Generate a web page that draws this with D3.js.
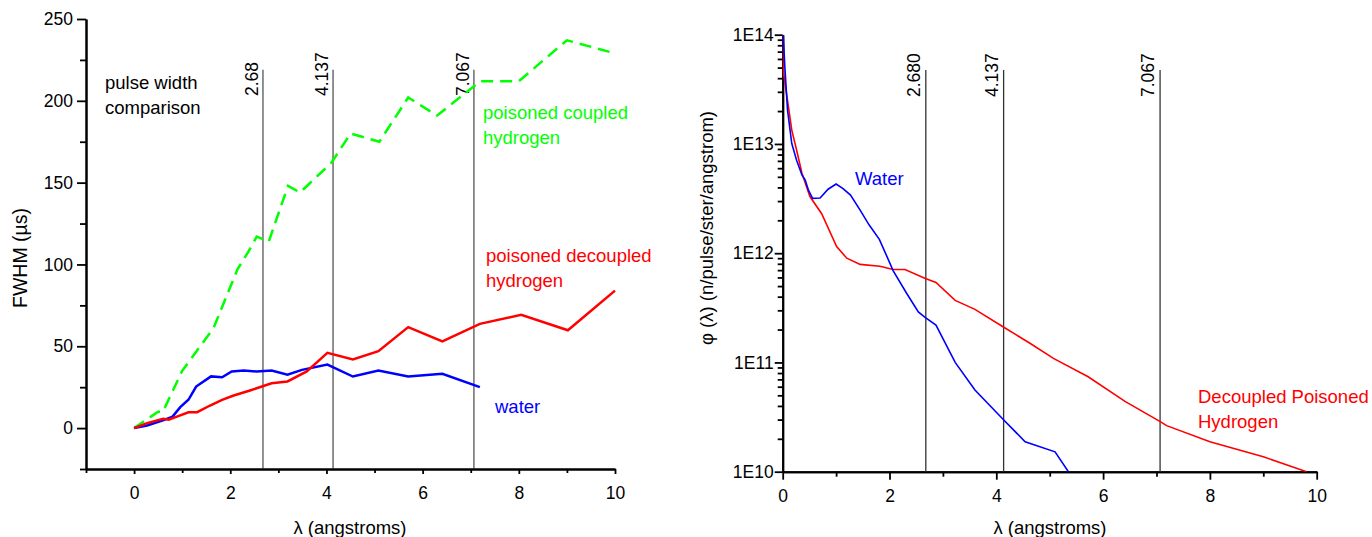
<!DOCTYPE html>
<html>
<head>
<meta charset="utf-8">
<script src="https://cdn.jsdelivr.net/npm/d3@7"></script>
<style>
  body { margin: 0; background: #fff; }
  svg { display: block; font-family: "Liberation Sans", Arial, sans-serif; }
</style>
</head>
<body>
<div id="chart"></div>
<script>
// left panel: pulse width (FWHM, µs) vs wavelength
const fwhmCoupled = [[0,0],[0.25,5],[0.5,10],[0.6,10],[1.0,35],[1.5,55],[1.65,61],[2.15,97],[2.38,108],[2.55,117],[2.8,114],
  [3.2,148],[3.45,144],[4.1,162],[4.5,180],[5.1,175],[5.7,202],[6.3,191],[7.2,212],[8.0,212],[9.0,237],[10.0,229]];
const fwhmDecoupled = [[0,0],[0.27,3],[0.48,4.7],[0.61,5.7],[0.72,5.1],[0.89,7],[1.13,9.7],[1.31,9.7],[1.58,13.8],[1.83,17.3],
  [2.07,19.9],[2.41,23],[2.86,27.4],[3.19,28.5],[3.59,34.6],[4.02,46],[4.55,42],[5.08,47],[5.7,61.7],[6.41,53],[7.19,63.7],
  [8.05,69.2],[9.02,59.8],[10,84]];
const fwhmWater = [[0,0],[0.27,1.6],[0.6,4.7],[0.8,7],[0.96,12.8],[1.13,17.3],[1.29,25.4],[1.6,31.6],[1.83,31.1],[2.03,34.6],
  [2.28,35.2],[2.55,34.6],[2.86,35.2],[3.19,32.6],[3.49,35.6],[4.02,38.8],[4.55,31.5],[5.08,35.2],[5.7,31.5],[6.41,33.2],[7.19,25]];

// right panel: flux (n/pulse/ster/angstrom) vs wavelength
const fluxWater = [[0.01,1e14],[0.04,5.1e13],[0.09,2.05e13],[0.17,1.01e13],[0.26,7.1e12],[0.36,5.2e12],[0.42,4.7e12],[0.48,3.8e12],
  [0.56,3.18e12],[0.7,3.2e12],[0.85,3.85e12],[1.0,4.3e12],[1.13,3.9e12],[1.27,3.4e12],[1.45,2.48e12],[1.62,1.81e12],[1.81,1.34e12],
  [2.07,6.9e11],[2.32,4.3e11],[2.54,2.9e11],[2.66,2.6e11],[2.87,2.2e11],[3.23,1e11],[3.6,5.6e10],[4.14,2.97e10],[4.54,1.88e10],
  [5.1,1.52e10],[5.35,1e10]];
const fluxDecoupled = [[0,1e14],[0.01,4.6e13],[0.09,2.5e13],[0.17,1.34e13],[0.26,8.8e12],[0.36,5.4e12],[0.51,3.3e12],[0.73,2.3e12],
  [1.01,1.15e12],[1.2,9e11],[1.45,7.9e11],[1.82,7.6e11],[2.07,7.1e11],[2.29,7.1e11],[2.66,5.9e11],[2.87,5.4e11],[3.23,3.7e11],
  [3.6,3.06e11],[4.14,2.1e11],[4.63,1.5e11],[5.07,1.09e11],[5.72,7.4e10],[6.41,4.4e10],[7.07,2.87e10],[7.19,2.64e10],[8.0,1.88e10],
  [9.0,1.37e10],[9.81,1e10]];

// marker wavelengths, as printed on each panel
const markersLeft = ["2.68", "4.137", "7.067"];
const markersRight = ["2.680", "4.137", "7.067"];

const xTicksMajor = [0, 2, 4, 6, 8, 10];
const fwhmTicks = [0, 50, 100, 150, 200, 250];
const fluxTicks = [1e10, 1e11, 1e12, 1e13, 1e14];

const width = 1372;
const height = 537;

const svg = d3.select("#chart")
    .append("svg")
    .attr("width", width)
    .attr("height", height);

const tickFont = 17.5;
const labelFont = 18.5;

const styleAxis = (g) => {
    g.attr("font-size", tickFont).attr("font-family", null);
    g.select(".domain").attr("stroke-width", 2);
    g.selectAll(".tick line").attr("stroke-width", 1.8);
    g.selectAll(".tick text").attr("fill", "#000");
};

// ---------- left panel ----------
const xL = d3.scaleLinear().domain([-1, 10]).range([86, 615]);
const yL = d3.scaleLinear().domain([-25, 250]).range([469, 19]);

svg.append("g")
    .attr("transform", `translate(0,${yL(-25)})`)
    .call(d3.axisBottom(xL).tickValues([-1, 1, 3, 5, 7, 9]).tickFormat("").tickSize(4).tickSizeOuter(0))
    .call(styleAxis);
svg.append("g")
    .attr("transform", `translate(0,${yL(-25)})`)
    .call(d3.axisBottom(xL).tickValues(xTicksMajor).tickSize(5).tickPadding(13).tickSizeOuter(0))
    .call(styleAxis);

svg.append("g")
    .attr("transform", `translate(${xL(-1)},0)`)
    .call(d3.axisLeft(yL).tickValues([-25, 25, 75, 125, 175, 225]).tickFormat("").tickSize(6).tickSizeOuter(0))
    .call(styleAxis);
svg.append("g")
    .attr("transform", `translate(${xL(-1)},0)`)
    .call(d3.axisLeft(yL).tickValues(fwhmTicks).tickSize(9).tickPadding(4).tickSizeOuter(0))
    .call(styleAxis);

// marker lines
svg.append("g").selectAll("line")
    .data(markersLeft)
    .join("line")
    .attr("x1", d => xL(+d)).attr("x2", d => xL(+d))
    .attr("y1", yL(219)).attr("y2", yL(-25))
    .attr("stroke", "#222").attr("stroke-width", 1);
svg.append("g").selectAll("text")
    .data(markersLeft)
    .join("text")
    .attr("transform", d => `translate(${xL(+d) - 5},96) rotate(-90)`)
    .attr("font-size", tickFont)
    .text(d => d);

const lineL = d3.line().x(d => xL(d[0])).y(d => yL(d[1]));

svg.append("path").datum(fwhmCoupled)
    .attr("d", lineL).attr("fill", "none")
    .attr("stroke", "#00ff00").attr("stroke-width", 2.5)
    .attr("stroke-dasharray", "12,7");
svg.append("path").datum(fwhmWater)
    .attr("d", lineL).attr("fill", "none")
    .attr("stroke", "#0000ff").attr("stroke-width", 2.5);
svg.append("path").datum(fwhmDecoupled)
    .attr("d", lineL).attr("fill", "none")
    .attr("stroke", "#ff0000").attr("stroke-width", 2.5);

const note = (x, y, lines, color) => {
    const t = svg.append("text")
        .attr("x", x).attr("y", y)
        .attr("font-size", labelFont)
        .attr("fill", color);
    lines.forEach((s, i) => t.append("tspan").attr("x", x).attr("dy", i ? 24.5 : 0).text(s));
};

note(105, 89, ["pulse width", "comparison"], "#000");
note(483, 119, ["poisoned coupled", "hydrogen"], "#00ff00");
note(486, 262, ["poisoned decoupled", "hydrogen"], "#ff0000");
note(495, 413, ["water"], "#0000ff");

svg.append("text")
    .attr("x", 350).attr("y", 534)
    .attr("text-anchor", "middle")
    .attr("font-size", labelFont)
    .text("λ (angstroms)");
svg.append("text")
    .attr("transform", "translate(27,258) rotate(-90)")
    .attr("text-anchor", "middle")
    .attr("font-size", labelFont + 1)
    .text("FWHM (µs)");

// ---------- right panel ----------
const xR = d3.scaleLinear().domain([0, 10]).range([782.7, 1316.7]);
const yR = d3.scaleLog().domain([1e10, 1e14]).range([471.7, 34.7]);

const minorLog = [];
for (let e = 10; e < 14; e++) {
    for (let m = 2; m <= 9; m++) minorLog.push(m * Math.pow(10, e));
}

svg.append("g")
    .attr("transform", `translate(0,${yR(1e10)})`)
    .call(d3.axisBottom(xR).tickValues([1, 3, 5, 7, 9]).tickFormat("").tickSize(5).tickSizeOuter(0))
    .call(styleAxis);
svg.append("g")
    .attr("transform", `translate(0,${yR(1e10)})`)
    .call(d3.axisBottom(xR).tickValues(xTicksMajor).tickSize(8).tickPadding(10).tickSizeOuter(0))
    .call(styleAxis);

svg.append("g")
    .attr("transform", `translate(${xR(0)},0)`)
    .call(d3.axisLeft(yR).tickValues(minorLog).tickFormat("").tickSize(5).tickSizeOuter(0))
    .call(styleAxis);
svg.append("g")
    .attr("transform", `translate(${xR(0)},0)`)
    .call(d3.axisLeft(yR).tickValues(fluxTicks).tickFormat(d => "1E" + Math.round(Math.log10(d)))
        .tickSize(8).tickPadding(1).tickSizeOuter(0))
    .call(styleAxis);

svg.append("g").selectAll("line")
    .data(markersRight)
    .join("line")
    .attr("x1", d => xR(+d)).attr("x2", d => xR(+d))
    .attr("y1", yR(4.75e13)).attr("y2", yR(1e10))
    .attr("stroke", "#333").attr("stroke-width", 1.3);
svg.append("g").selectAll("text")
    .data(markersRight)
    .join("text")
    .attr("transform", d => `translate(${xR(+d) - 6},97) rotate(-90)`)
    .attr("font-size", tickFont)
    .text(d => d);

svg.append("clipPath").attr("id", "clipR")
    .append("rect")
    .attr("x", xR(0)).attr("y", yR(1e14))
    .attr("width", xR(10) - xR(0)).attr("height", yR(1e10) - yR(1e14));

const lineR = d3.line().x(d => xR(d[0])).y(d => yR(d[1]));

svg.append("path").datum(fluxDecoupled)
    .attr("clip-path", "url(#clipR)")
    .attr("d", lineR).attr("fill", "none")
    .attr("stroke", "#ff0000").attr("stroke-width", 1.6);
svg.append("path").datum(fluxWater)
    .attr("clip-path", "url(#clipR)")
    .attr("d", lineR).attr("fill", "none")
    .attr("stroke", "#0000ff").attr("stroke-width", 1.6);

note(855, 185, ["Water"], "#0000ff");
note(1198, 403, ["Decoupled Poisoned", "Hydrogen"], "#ff0000");

svg.append("text")
    .attr("x", 1050).attr("y", 534)
    .attr("text-anchor", "middle")
    .attr("font-size", labelFont)
    .text("λ (angstroms)");
svg.append("text")
    .attr("transform", "translate(713,228) rotate(-90)")
    .attr("text-anchor", "middle")
    .attr("font-size", labelFont)
    .text("φ (λ) (n/pulse/ster/angstrom)");
</script>
</body>
</html>
